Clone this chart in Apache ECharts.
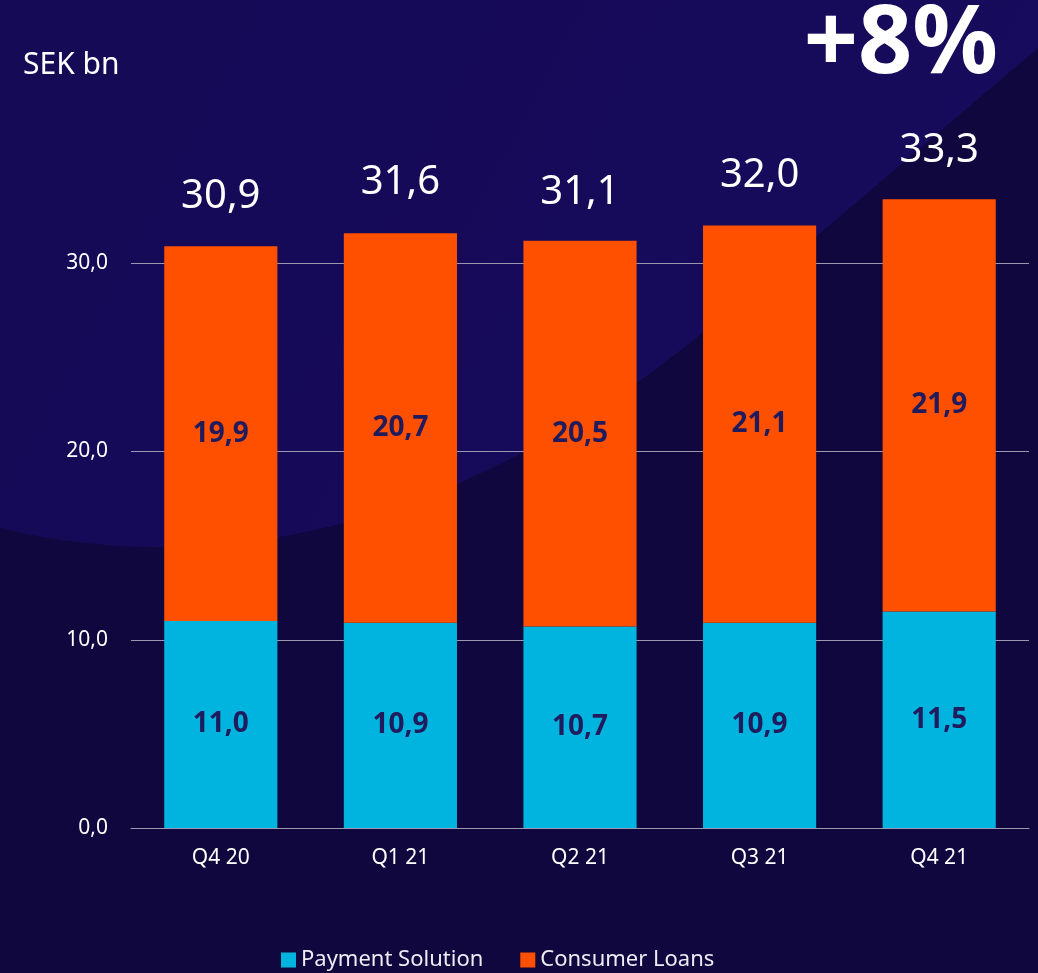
<!DOCTYPE html>
<html>
<head>
<meta charset="utf-8">
<script src="https://cdn.jsdelivr.net/npm/echarts@6/dist/echarts.min.js"></script>
<style>
html,body{margin:0;padding:0;background:#10073F;}
#chart{width:1038px;height:973px;}
</style>
</head>
<body>
<div id="chart"></div>
<script>
var categories = ['Q4 20', 'Q1 21', 'Q2 21', 'Q3 21', 'Q4 21'];
var paymentSolution = [11.0, 10.9, 10.7, 10.9, 11.5];
var consumerLoans = [19.9, 20.7, 20.5, 21.1, 21.9];
var totals = [30.9, 31.6, 31.1, 32.0, 33.3];
var yTicks = [0, 10, 20, 30];
var unitLabel = 'SEK bn';
var growthLabel = '+8%';

function fmt(v) { return v.toFixed(1).replace('.', ','); }

// decorative background swoosh outline
function swoosh() {
  var pts = [[0, 0], [1038, 0], [1038, 48], [720, 318]];
  var p0 = [720, 318], c1 = [560, 455], c2 = [300, 600], p3 = [0, 528];
  for (var i = 1; i <= 40; i++) {
    var t = i / 40, u = 1 - t;
    pts.push([
      u*u*u*p0[0] + 3*u*u*t*c1[0] + 3*u*t*t*c2[0] + t*t*t*p3[0],
      u*u*u*p0[1] + 3*u*u*t*c1[1] + 3*u*t*t*c2[1] + t*t*t*p3[1]
    ]);
  }
  return pts;
}

var chart = echarts.init(document.getElementById('chart'), null, { renderer: 'canvas' });
var font = '"Noto Sans", "Open Sans", sans-serif';

chart.setOption({
  backgroundColor: '#10073F',
  animation: false,
  textStyle: { fontFamily: font },
  graphic: [
    {
      type: 'polygon', z: -10, silent: true,
      shape: { points: swoosh() },
      style: {
        fill: {
          type: 'linear', x: 0, y: 0, x2: 1, y2: 1,
          colorStops: [
            { offset: 0, color: '#150A55' },
            { offset: 0.6, color: '#160A5A' },
            { offset: 1, color: '#170B5F' }
          ]
        }
      }
    },
    {
      type: 'text', left: 23, top: 50,
      style: { text: unitLabel, fill: '#ffffff', font: '30px ' + font }
    },
    {
      type: 'text', right: 40, top: -2,
      style: { text: growthLabel, fill: '#ffffff', font: 'bold 95px ' + font }
    }
  ],
  grid: { left: 131, right: 9, top: 75, bottom: 145 },
  legend: {
    top: 944, left: 276,
    data: ['Payment Solution', 'Consumer Loans'],
    icon: 'rect', itemWidth: 15, itemHeight: 15, itemGap: 37,
    textStyle: { color: '#ececf4', fontSize: 22, fontFamily: font }
  },
  xAxis: {
    type: 'category', data: categories,
    axisLine: { show: true, lineStyle: { color: '#9a97b0', width: 1 } },
    axisTick: { show: false },
    axisLabel: { color: '#ffffff', fontSize: 21, margin: 20, fontFamily: font }
  },
  yAxis: {
    type: 'value', min: 0, max: 40, interval: 10,
    axisLine: { show: false }, axisTick: { show: false },
    axisLabel: {
      color: '#ffffff', fontSize: 21, margin: 23, fontFamily: font,
      formatter: function (v) { return yTicks.indexOf(v) >= 0 ? fmt(v) : ''; }
    },
    splitLine: { lineStyle: { color: ['#9a97b0', '#9a97b0', '#9a97b0', '#9a97b0', 'rgba(0,0,0,0)'], width: 1 } }
  },
  series: [
    {
      name: 'Payment Solution', type: 'bar', stack: 'total', barWidth: '63%',
      data: paymentSolution,
      itemStyle: { color: '#00B4E0' },
      label: {
        show: true, position: 'inside', color: '#201B5C',
        fontSize: 28, fontWeight: 'bold', fontFamily: font,
        formatter: function (p) { return fmt(p.value); }
      }
    },
    {
      name: 'Consumer Loans', type: 'bar', stack: 'total', barWidth: '63%',
      data: consumerLoans,
      itemStyle: { color: '#FF5000' },
      label: {
        show: true, position: 'inside', color: '#201B5C',
        fontSize: 28, fontWeight: 'bold', fontFamily: font,
        formatter: function (p) { return fmt(p.value); }
      }
    },
    {
      name: 'Total', type: 'scatter', data: totals, symbolSize: 0.1,
      itemStyle: { color: 'rgba(0,0,0,0)', opacity: 1 },
      label: {
        show: true, position: 'top', distance: 30, color: '#ffffff', opacity: 1,
        fontSize: 40, fontFamily: font,
        formatter: function (p) { return fmt(p.value); }
      }
    }
  ]
});
</script>
</body>
</html>
